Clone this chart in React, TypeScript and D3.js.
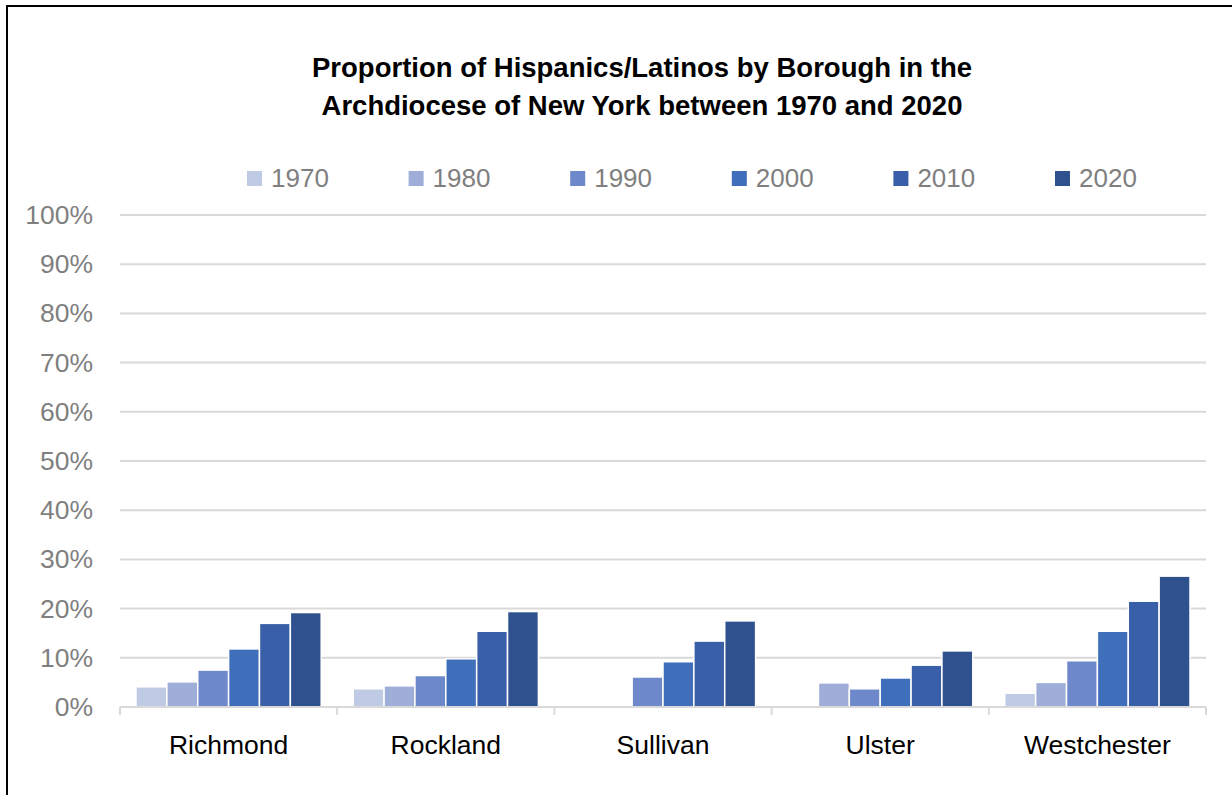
import { useEffect } from "react"
import * as d3 from "d3"

const boroughs = ["Richmond", "Rockland", "Sullivan", "Ulster", "Westchester"]
const years = ["1970", "1980", "1990", "2000", "2010", "2020"]

// share of Hispanics/Latinos (%) per borough, one array per census year; null = no bar
const v1970 = [4.1, 3.7, null, null, 2.8]
const v1980 = [5.1, 4.3, null, 4.9, 5.0]
const v1990 = [7.5, 6.4, 6.1, 3.7, 9.4]
const v2000 = [11.8, 9.8, 9.2, 5.9, 15.4]
const v2010 = [17.0, 15.4, 13.4, 8.5, 21.5]
const v2020 = [19.2, 19.4, 17.5, 11.4, 26.6]

const yTicks = [0, 10, 20, 30, 40, 50, 60, 70, 80, 90, 100]
const colors = ["#bfcae4", "#9eaed9", "#6e89cb", "#3f6ebb", "#385fa7", "#2f528f"]

const seriesValues = [v1970, v1980, v1990, v2000, v2010, v2020]

const font = "'Liberation Sans', Arial, sans-serif"

export default function App() {
  useEffect(() => {
    document.body.style.margin = "0"
  }, [])

  const width = 1232
  const height = 795
  const margin = { top: 215, right: 26, bottom: 88, left: 120 }

  const x0 = d3
    .scaleBand<string>()
    .domain(boroughs)
    .range([margin.left, width - margin.right])
    .padding(0)

  const x1 = d3
    .scaleBand<string>()
    .domain(years)
    .range([16, x0.bandwidth() - 16])
    .padding(0)

  const y = d3
    .scaleLinear()
    .domain([0, 100])
    .range([height - margin.bottom, margin.top])

  const gridColor = "#d9d9d9"
  const legendX = d3.scalePoint<string>().domain(years).range([247, 1055])

  return (
    <svg width={width} height={height} style={{ display: "block", background: "#fff" }}>
      <rect x={7} y={6} width={width + 20} height={height + 20} fill="#fff" stroke="#000" strokeWidth={2} />

      {/* title */}
      <text x={642} y={77} textAnchor="middle" fontFamily={font} fontWeight="bold" fontSize={27.5} fill="#000">
        Proportion of Hispanics/Latinos by Borough in the
      </text>
      <text x={642} y={115} textAnchor="middle" fontFamily={font} fontWeight="bold" fontSize={27.5} fill="#000">
        Archdiocese of New York between 1970 and 2020
      </text>

      {/* legend */}
      {years.map((yr, i) => (
        <g key={yr} transform={`translate(${legendX(yr)},0)`}>
          <rect x={0} y={171} width={15} height={15} fill={colors[i]} />
          <text x={24} y={187} fontFamily={font} fontSize={26} fill="#7f7f7f">
            {yr}
          </text>
        </g>
      ))}

      {/* gridlines + y labels */}
      {yTicks.map((t) => (
        <g key={t}>
          <line
            x1={margin.left}
            x2={width - margin.right}
            y1={y(t)}
            y2={y(t)}
            stroke={gridColor}
            strokeWidth={2}
          />
          <text x={93} y={y(t) + 9} textAnchor="end" fontFamily={font} fontSize={26.5} fill="#7f7f7f">
            {t}%
          </text>
        </g>
      ))}

      {/* bars */}
      {boroughs.map((b, bi) => (
        <g key={b} transform={`translate(${x0(b)},0)`}>
          {years.map((yr, si) => {
            const v = seriesValues[si][bi]
            if (v == null) return null
            return (
              <rect
                key={yr}
                x={x1(yr)}
                y={y(v)}
                width={x1.bandwidth()}
                height={y(0) - y(v)}
                fill={colors[si]}
                stroke="#fff"
                strokeWidth={1.5}
              />
            )
          })}
        </g>
      ))}

      {/* x axis */}
      <line x1={margin.left} x2={width - margin.right} y1={y(0)} y2={y(0)} stroke={gridColor} strokeWidth={2} />
      {[...boroughs.map((b) => x0(b) as number), width - margin.right].map((xv, i) => (
        <line key={i} x1={xv} x2={xv} y1={y(0)} y2={y(0) + 8} stroke={gridColor} strokeWidth={2} />
      ))}
      {boroughs.map((b) => (
        <text
          key={b}
          x={(x0(b) as number) + x0.bandwidth() / 2}
          y={754}
          textAnchor="middle"
          fontFamily={font}
          fontSize={26.5}
          fill="#000"
        >
          {b}
        </text>
      ))}
    </svg>
  )
}
